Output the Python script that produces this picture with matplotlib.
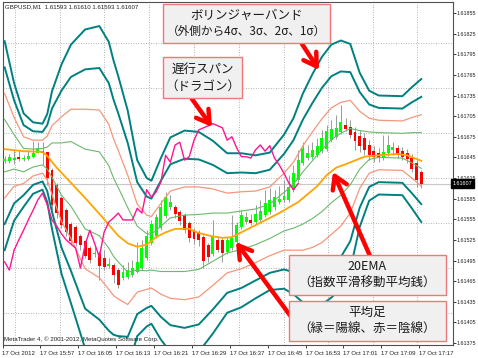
import numpy as np
import matplotlib
matplotlib.use("Agg")
import matplotlib.pyplot as plt
from matplotlib.patches import Rectangle, FancyArrowPatch

# GBPUSD M1, heikin-ashi candles 17 Oct 2012 15:49 .. 17:17
# prices in points (1e-5)
ha_open = [161640, 161640, 161641, 161645, 161643, 161643, 161646, 161652, 161654, 161653,
           161627, 161605, 161586, 161568, 161548, 161544, 161531, 161523, 161513, 161504,
           161506, 161499, 161487, 161488, 161481, 161470, 161471, 161474, 161478, 161484,
           161499, 161520, 161531, 161542, 161560, 161573, 161573, 161566, 161561, 161550,
           161539, 161536, 161529, 161518, 161504, 161525, 161525, 161507, 161513, 161522,
           161544, 161551, 161554, 161551, 161554, 161561, 161566, 161573, 161580, 161583,
           161583, 161598, 161612, 161637, 161644, 161646, 161648, 161654, 161657, 161670,
           161675, 161682, 161692, 161689, 161682, 161676, 161673, 161663, 161654, 161651,
           161646, 161651, 161656, 161659, 161654, 161651, 161644, 161637, 161624]
ha_high = [161647, 161650, 161656, 161656, 161648, 161656, 161669, 161667, 161667, 161653,
           161630, 161608, 161589, 161571, 161551, 161547, 161534, 161525, 161516, 161518,
           161509, 161510, 161499, 161491, 161484, 161488, 161493, 161496, 161522, 161525,
           161539, 161554, 161563, 161583, 161595, 161590, 161576, 161568, 161564, 161552,
           161542, 161539, 161532, 161520, 161554, 161531, 161528, 161529, 161561, 161551,
           161568, 161566, 161563, 161576, 161583, 161598, 161600, 161598, 161603, 161612,
           161619, 161634, 161656, 161667, 161663, 161667, 161673, 161685, 161692, 161699,
           161707, 161721, 161702, 161699, 161689, 161685, 161680, 161670, 161662, 161659,
           161678, 161678, 161667, 161663, 161660, 161657, 161650, 161641, 161627]
ha_low = [161637, 161637, 161635, 161640, 161640, 161641, 161644, 161651, 161634, 161605,
          161568, 161557, 161542, 161531, 161518, 161516, 161510, 161499, 161491, 161500,
          161467, 161481, 161484, 161462, 161455, 161467, 161468, 161471, 161477, 161481,
          161496, 161518, 161528, 161539, 161557, 161568, 161557, 161547, 161535, 161522,
          161519, 161516, 161484, 161493, 161502, 161507, 161493, 161504, 161510, 161519,
          161541, 161548, 161547, 161548, 161551, 161558, 161563, 161568, 161577, 161580,
          161580, 161595, 161609, 161634, 161641, 161643, 161646, 161651, 161654, 161667,
          161672, 161679, 161683, 161673, 161656, 161653, 161648, 161641, 161638, 161638,
          161641, 161647, 161648, 161644, 161641, 161637, 161624, 161602, 161600]
ha_close = [161643, 161645, 161644, 161642, 161644, 161647, 161651, 161659, 161651, 161615,
            161576, 161564, 161547, 161536, 161523, 161520, 161518, 161502, 161496, 161506,
            161487, 161486, 161490, 161474, 161459, 161478, 161481, 161484, 161493, 161513,
            161531, 161548, 161558, 161573, 161587, 161580, 161563, 161552, 161539, 161528,
            161526, 161525, 161494, 161500, 161529, 161510, 161506, 161525, 161528, 161547,
            161561, 161558, 161550, 161563, 161567, 161579, 161583, 161587, 161584, 161589,
            161602, 161622, 161641, 161659, 161651, 161656, 161662, 161673, 161683, 161686,
            161688, 161696, 161686, 161678, 161669, 161662, 161656, 161648, 161646, 161644,
            161653, 161663, 161660, 161648, 161646, 161643, 161628, 161612, 161607]

# bollinger bands (middle and one sigma), read at these bars
band_idx = [0, 2, 4, 6, 8, 9, 10, 12, 14, 17, 20, 22, 23, 24, 26, 28, 30, 31, 33, 35,
            38, 41, 44, 47, 50, 53, 56, 59, 61, 63, 65, 67, 69, 71, 73, 75, 77, 79, 84, 86, 88]
band_mid = [161662, 161653, 161641, 161644, 161646, 161644, 161641, 161628, 161621, 161599,
            161592, 161573, 161558, 161547, 161525, 161513, 161507, 161507, 161512, 161518,
            161520, 161522, 161529, 161535, 161539, 161544, 161552, 161566, 161574, 161586,
            161598, 161611, 161625, 161635, 161646, 161656, 161662, 161663, 161662, 161659, 161655]
band_sd = [38, 25, 17, 13, 12, 16, 25, 38, 47, 58, 61, 60, 57, 54, 47, 32, 27, 26, 33, 39,
           41, 40, 35, 29, 28, 26, 25, 28, 32, 38, 42, 45, 46, 45, 41, 28, 20, 18, 18, 22, 26]

# 20 EMA
ema_idx = [0, 4, 8, 9, 11, 14, 17, 20, 22, 24, 26, 28, 30, 32, 34, 36, 39, 41, 44, 46,
           48, 50, 54, 58, 62, 66, 68, 70, 72, 76, 79, 83, 85, 88]
ema_val = [161657, 161654, 161653, 161647, 161630, 161608, 161586, 161563, 161547, 161531,
           161520, 161515, 161518, 161529, 161536, 161541, 161541, 161535, 161530, 161528,
           161529, 161536, 161550, 161564, 161580, 161603, 161619, 161630, 161635, 161646,
           161648, 161650, 161648, 161640]

# chikou span (bars 0..62)
chikou = [161493, 161481, 161510, 161525, 161539, 161554, 161568, 161583, 161593, 161576,
          161554, 161545, 161534, 161525, 161519, 161513, 161484, 161518, 161539, 161520,
          161500, 161536, 161551, 161557, 161564, 161554, 161554, 161554, 161571, 161564,
          161598, 161587, 161595, 161609, 161648, 161638, 161663, 161667, 161641, 161646,
          161670, 161685, 161688, 161691, 161694, 161691, 161688, 161670, 161675, 161659,
          161646, 161646, 161644, 161656, 161663, 161654, 161662, 161644, 161634, 161622,
          161608, 161598, 161607]

bid = 1.61607
time_idx = [0, 8, 16, 24, 32, 40, 48, 56, 64, 72, 80, 88]
time_labels = ["17 Oct 2012", "17 Oct 15:57", "17 Oct 16:05", "17 Oct 16:13", "17 Oct 16:21",
               "17 Oct 16:29", "17 Oct 16:37", "17 Oct 16:45", "17 Oct 16:53", "17 Oct 17:01",
               "17 Oct 17:09", "17 Oct 17:17"]
price_ticks = [1.61855, 1.61825, 1.61795, 1.61765, 1.61735, 1.61705, 1.61675, 1.61645, 1.61615,
               1.61585, 1.61555, 1.61525, 1.61495, 1.61465, 1.61435, 1.61405, 1.61375]
hgrid = [1.61811, 1.61746, 1.61680, 1.61615, 1.61550, 1.61484, 1.61419]
vgrid = [2.1, 11.6, 21.05, 30.5, 40, 49.5, 58.9, 68.4, 77.7, 87.2]

plt.rcParams['font.family'] = ['Liberation Sans', 'DejaVu Sans']
jp = ['Noto Sans CJK JP', 'DejaVu Sans']

W, H = 478, 358
fig = plt.figure(figsize=(W / 100, H / 100), dpi=100)
fig.patch.set_facecolor('white')
ax = fig.add_axes([2.5 / W, 1 - 345 / H, 450.5 / W, 343 / H])

o = np.array(ha_open) / 1e5
hi = np.array(ha_high) / 1e5
lo = np.array(ha_low) / 1e5
c = np.array(ha_close) / 1e5
idx = np.arange(len(o))

# grid
for g in hgrid:
    ax.axhline(g, color='#9a9a9a', lw=0.6, ls=(0, (1, 2)), zorder=1)
for g in vgrid:
    ax.axvline(g, color='#9a9a9a', lw=0.6, ls=(0, (1, 2)), zorder=1)
ax.axhline(bid, color='#c8c8c8', lw=0.8, zorder=1)

# bands
mid = np.array(band_mid) / 1e5
sd = np.array(band_sd) / 1e5
for k, col, lw in [(4, '#008080', 1.4), (3, '#008080', 1.4), (2, '#f5977a', 0.9), (1, '#6cb86c', 0.8)]:
    ax.plot(band_idx, mid + k * sd, color=col, lw=lw, zorder=4)
    ax.plot(band_idx, mid - k * sd, color=col, lw=lw, zorder=4)

# heikin-ashi
ax.vlines(idx, lo, hi, color='#9a9a9a', lw=0.7, zorder=2)
body_low = np.minimum(o, c)
body_h = np.maximum(np.abs(c - o), 1.3e-5)
cols = np.where(c >= o, '#00ff00', '#ff0000')
ax.bar(idx, body_h, bottom=body_low, width=0.62, color=cols, linewidth=0, zorder=3)

ax.plot(ema_idx, np.array(ema_val) / 1e5, color='#ffa500', lw=1.3, zorder=5)
ax.plot(np.arange(len(chikou)), np.array(chikou) / 1e5, color='#ff1493', lw=1.0, zorder=5)

ax.set_xlim(-0.1, 94.7)
ax.set_ylim(1.613721, 1.618710)

ax.set_xticks(np.array(time_idx) - 0.45)
ax.set_xticklabels(time_labels, ha='left')
ax.yaxis.tick_right()
ax.set_yticks(price_ticks)
ax.set_yticklabels([f'{p:.5f}' for p in price_ticks])
ax.tick_params(axis='x', length=2.5, width=0.6, pad=1.5, labelsize=4.3, colors='#202020')
ax.tick_params(axis='y', length=2, width=0.6, pad=0.8, labelsize=3.9, colors='#202020')
for s in ax.spines.values():
    s.set_color('#505050')
    s.set_linewidth(0.8)

ax.text(1.0, bid, f'{bid:.5f}', transform=ax.get_yaxis_transform(), fontsize=3.9,
        color='white', va='center', ha='left',
        bbox=dict(boxstyle='square,pad=0.3', fc='black', ec='black'))

fig.text(5 / W, 1 - 6.5 / H, 'GBPUSD,M1  1.61593 1.61610 1.61593 1.61607', fontsize=4.4,
         va='center', color='#202020')
fig.text(4 / W, 1 - 339.5 / H, 'MetaTrader 4, © 2001-2012, MetaQuotes Software Corp.',
         fontsize=4.4, va='center', color='#202020')


def px(x, y):
    return (x / W, 1 - y / H)


# arrows
arrows = [((302, 44), (319, 70)), ((192, 99), (212, 127)),
          ((370, 256), (333, 172)), ((292, 318), (236, 242))]
for tail, tip in arrows:
    a = FancyArrowPatch(px(*tail), px(*tip), transform=fig.transFigure,
                        arrowstyle='->,head_length=0.9,head_width=0.55', mutation_scale=10,
                        color='#ff0000', lw=3.2, zorder=5, shrinkA=0, shrinkB=0)
    fig.add_artist(a)

# notes
notes = [((163, 4, 330, 43), 'ボリンジャーバンド', '（外側から4σ、3σ、2σ、1σ）', 8.4),
         ((163, 57, 242, 98), '遅行スパン', '（ドラゴン）', 9),
         ((289, 255, 446, 295), '20EMA', '（指数平滑移動平均銭）', 9),
         ((289, 301, 446, 341), '平均足', '（緑＝陽線、赤＝陰線）', 9)]
for (x0, y0, x1, y1), t1, t2, fs2 in notes:
    r = Rectangle(px(x0, y1), (x1 - x0) / W, (y1 - y0) / H, transform=fig.transFigure,
                  fc='#f0f0f0', ec='#f07878', lw=1.0, zorder=6)
    fig.add_artist(r)
    cx = (x0 + x1) / 2
    fig.text(*px(cx, y0 + (y1 - y0) * 0.29), t1, fontsize=9, family=jp, ha='center',
             va='center', color='#1a1a1a', zorder=7)
    fig.text(*px(cx, y0 + (y1 - y0) * 0.71), t2, fontsize=fs2, family=jp, ha='center',
             va='center', color='#1a1a1a', zorder=7)

fig.savefig('out.png', dpi=100)
